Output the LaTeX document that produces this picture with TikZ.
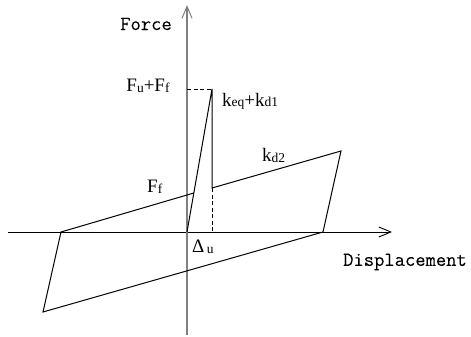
\documentclass[tikz,border=0pt]{standalone}
\usepackage{fontspec}
\setmainfont{Liberation Serif}
\setmonofont[FakeBold=0.07]{Latin Modern Mono}
\usetikzlibrary{arrows.meta}
\newcommand{\mainsz}{\fontsize{19}{19}\selectfont}
\newcommand{\subsz}{\fontsize{13.5}{13.5}\selectfont}
\newcommand{\lbl}[2]{{\mainsz #1}{\subsz\raisebox{-1pt}{#2}}}
\tikzset{
  axisv/.style={draw=black!50, line width=1.4pt, -{Straight Barb[length=12pt,width=10pt,line width=1pt]}},
  axish/.style={draw=black, line width=0.9pt, -{Straight Barb[length=12pt,width=10pt,line width=0.9pt]}},
  curve/.style={draw=black, line width=1pt, line join=miter},
  guide/.style={draw=black, line width=0.9pt, dashed, dash pattern=on 4pt off 2.5pt},
  mono/.style={font=\ttfamily\fontsize{20}{20}\selectfont, inner sep=0pt},
  lab/.style={inner sep=0pt},
}
\begin{document}
\begin{tikzpicture}[x=1pt,y=-1pt]
\useasboundingbox (0,0) rectangle (471,337);
% key points
\coordinate (O) at (187,232);
\coordinate (A) at (212,89);
\coordinate (B) at (212,188);
\coordinate (C) at (341,151);
\coordinate (D) at (323,232);
\coordinate (E) at (43,312);
\coordinate (G) at (61,232);
\coordinate (H) at (193.8,193);
\coordinate (Ay) at (187,89);
\coordinate (Bx) at (212,232);
\coordinate (vbot) at (187,335);
\coordinate (vtop) at (187,5);
\coordinate (hleft) at (8,232);
\coordinate (hright) at (392,232);
% axes
\draw[axish] (hleft) -- (hright);
\draw[axisv] (vbot) -- (vtop);
% hysteresis loop
\draw[curve] (O) -- (A) -- (B) -- (C) -- (D) -- (E) -- (G) -- (H);
% dashed guides
\draw[guide] (Ay) -- (A);
\draw[guide] (B) -- (Bx);
% labels
\node[mono] (force) at (146,24) {Force};
\node[mono] (disp) at (405,262) {Displacement};
\node[lab, anchor=base] (fuff) at (148,92) {\lbl{F}{u}\lbl{+F}{f}};
\node[lab, anchor=base west] (keq) at (222,106) {\lbl{k}{eq}\lbl{+k}{d1}};
\node[lab, anchor=base west] (kd2) at (262,161) {\lbl{k}{d2}};
\node[lab, anchor=base west] (ff) at (147,192) {\lbl{F}{f}};
\node[lab, anchor=base west] (du) at (192,252) {{\mainsz Δ} {\subsz\raisebox{-1pt}{u}}};
\end{tikzpicture}
\end{document}
